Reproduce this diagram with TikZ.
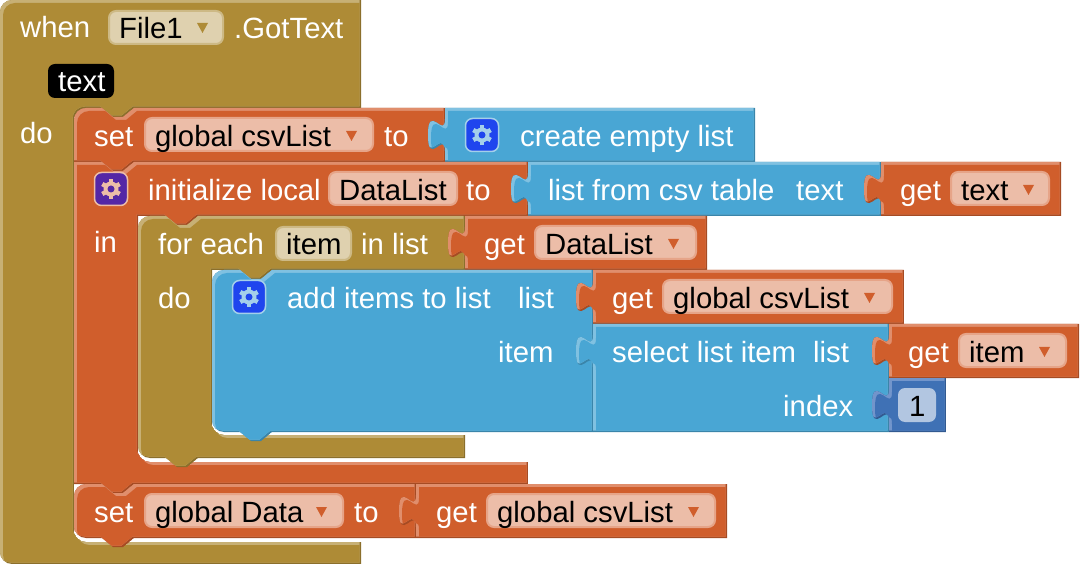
\documentclass[tikz,border=0pt]{standalone}
\usepackage{fontspec}
\setmainfont{Liberation Sans}

\definecolor{goldmain}{HTML}{AE8B36}
\definecolor{goldlight}{HTML}{C7B075}
\definecolor{golddark}{HTML}{8B6F2B}
\definecolor{orangemain}{HTML}{D05E2C}
\definecolor{orangelight}{HTML}{E08E6C}
\definecolor{orangedark}{HTML}{A64B23}
\definecolor{bluemain}{HTML}{49A6D4}
\definecolor{bluelight}{HTML}{80C1E1}
\definecolor{bluedark}{HTML}{3A85AA}
\definecolor{nummain}{HTML}{3F71B5}
\definecolor{numlight}{HTML}{7295CB}
\definecolor{numdark}{HTML}{325A91}
\definecolor{orangefield}{HTML}{ECBDA8}
\definecolor{orangerim}{HTML}{E6A488}
\definecolor{goldfield}{HTML}{DFD1AF}
\definecolor{goldrim}{HTML}{CDB985}
\definecolor{numfield}{HTML}{B2C6E1}
\definecolor{iconblue}{HTML}{1F45EE}
\definecolor{iconpurple}{HTML}{5427A6}
\definecolor{gearpale}{HTML}{A4CFEA}

% embossed block: dark rim, light rim, then the body
\newcommand{\blockshape}[2]{
  \begin{scope}
    \clip #2;
    \fill[#1dark] #2;
    \clip[shift={(-1.5,-1.5)}] #2;
    \fill[#1light] #2;
    \clip[shift={(3,3)}] #2;
    \fill[#1main] #2;
  \end{scope}
}
\newcommand{\tnotch}[2]{-- ({#1+28},#2) -- ({#1+39},{#2+9}) -- ({#1+49},{#2+9}) -- ({#1+60},#2)}
\newcommand{\bnotch}[2]{-- ({#1+60},#2) -- ({#1+49},{#2+9}) -- ({#1+39},{#2+9}) -- ({#1+28},#2)}
\newcommand{\ptab}[2]{-- (#1,{#2+11}) .. controls (#1,{#2+32}) and ({#1-17},{#2-6}) .. ({#1-17},{#2+27}) .. controls ({#1-17},{#2+60}) and (#1,{#2+22}) .. (#1,{#2+43})}
% value block with its tab on the left
\newcommand{\valblock}[5]{
  \blockshape{#1}{(#2,#3) \ptab{#2}{#3} -- (#2,#5) -- (#4,#5) -- (#4,#3) -- cycle}
}

\begin{document}
\begin{tikzpicture}[x=1pt,y=-1pt,
    lbl/.style={anchor=base west,inner sep=0pt,yshift=-0.7pt,font=\fontsize{29.3}{30}\selectfont},
    whitelbl/.style={lbl,text=white},
    blacklbl/.style={lbl,text=black},
    fieldbox/.style={anchor=north west,inner sep=0pt,outer sep=0pt,minimum height=33pt,rounded corners=7pt,line width=2pt}]
  \useasboundingbox (0,0) rectangle (1080,564);

  % event block and what it holds, back to front
  \blockshape{gold}{(361,108) -- (361,0) [rounded corners=12pt] -- (0,0) -- (0,564) [sharp corners] -- (361,564) -- (361,542) [rounded corners=12pt] -- (74,542) -- (74,108) [sharp corners] \tnotch{74}{108} -- cycle}
  \blockshape{orange}{(74,162) [rounded corners=12pt] -- (74,108) [sharp corners] \tnotch{74}{108} -- (445,108) -- (445,162) \bnotch{74}{162} -- cycle}
  \valblock{blue}{445}{108}{755}{162}
  \blockshape{orange}{(74,484) -- (74,162) \tnotch{74}{162} -- (528,162) -- (528,216) \bnotch{138}{216} -- (138,216) [rounded corners=12pt] -- (138,462) [sharp corners] -- (528,462) -- (528,484) \bnotch{74}{484} -- cycle}
  \valblock{blue}{528}{162}{881}{216}
  \valblock{orange}{881}{162}{1061}{216}
  \blockshape{gold}{(138,270) [rounded corners=12pt] -- (138,216) [sharp corners] \tnotch{138}{216} -- (465,216) -- (465,270) \bnotch{212}{270} -- (212,270) [rounded corners=12pt] -- (212,435) [sharp corners] -- (465,435) -- (465,458) \bnotch{138}{458} [rounded corners=12pt] -- (138,458) -- (138,400) [sharp corners] -- cycle}
  \valblock{orange}{465}{216}{707}{270}
  \blockshape{blue}{(212,350) [rounded corners=12pt] -- (212,270) [sharp corners] \tnotch{212}{270} -- (593,270) -- (593,432) \bnotch{212}{432} [rounded corners=12pt] -- (212,432) -- (212,380) [sharp corners] -- cycle}
  \valblock{orange}{593}{270}{904}{324}
  \valblock{blue}{593}{324}{889}{432}
  \valblock{orange}{889}{324}{1079}{378}
  \valblock{num}{889}{378}{946}{432}
  \blockshape{orange}{(74,510) [rounded corners=12pt] -- (74,484) [sharp corners] \tnotch{74}{484} -- (416,484) -- (416,538) \bnotch{74}{538} [rounded corners=12pt] -- (74,538) -- (74,520) [sharp corners] -- cycle}
  \valblock{orange}{416}{484}{727}{538}

  % dropdown fields
  \foreach \x/\w/\y/\tx/\name/\txt in {
    145/228/118/346/csvfield/global csvList, 329/128/172/0/datafield/DataList,
    951/98/172/1023/textfield/text, 535/161/226/668/listfield/DataList,
    663/229/280/864/getcsvfield/global csvList, 959/107/334/1039/itemfield/item,
    145/198/494/316/globalfield/global Data, 487/228/494/688/lastfield/global csvList}
  {
    \node[fieldbox,fill=orangefield,draw=orangerim,minimum width=\w pt] (\name) at (\x,\y) {};
    \node[blacklbl] (\name txt) at ({\x+10},{\y+28}) {\txt};
    \ifnum\tx>0 \fill[orangemain] (\tx,{\y+13}) -- ({\tx+11},{\y+13}) -- ({\tx+5.5},{\y+23}) -- cycle; \fi
  }
  \node[fieldbox,fill=goldfield,draw=goldrim,minimum width=114pt] (filefield) at (109,11) {};
  \node[blacklbl] (filetxt) at (119,38) {File1};
  \fill[goldmain] (197,23) -- (208,23) -- (202.5,33) -- cycle;
  \node[fieldbox,fill=goldfield,draw=goldrim,minimum width=75pt] (itemname) at (276,227) {};
  \node[blacklbl] (itemtxt) at (286,254) {item};
  \node[fieldbox,fill=black,minimum width=66pt,minimum height=34pt] (textname) at (48,64) {};
  \node[whitelbl] (texttxt) at (58,91) {text};
  \node[fieldbox,fill=numfield,minimum width=38pt,minimum height=34pt] (numbox) at (898,388) {};
  \node[blacklbl] (numtxt) at (909,416) {1};

  % mutator icons
  \foreach \cx/\cy/\bg/\gc/\name in {
    482/135/iconblue/gearpale/creategear, 111/189/iconpurple/orangefield/initgear,
    249/297/iconblue/gearpale/addgear}
  {
    \node[draw=\gc,fill=\bg,line width=1.5pt,rounded corners=7pt,minimum size=33pt,inner sep=0pt] (\name) at (\cx,\cy) {};
    \foreach \ang in {30,90,...,330}
      \draw[\gc,line width=4.5pt] ({\cx+5*cos(\ang)},{\cy+5*sin(\ang)}) -- ({\cx+10*cos(\ang)},{\cy+10*sin(\ang)});
    \fill[\gc] (\cx,\cy) circle[radius=7.5];
    \fill[\bg] (\cx,\cy) circle[radius=3.5];
  }

  % white labels
  \foreach \x/\y/\name/\txt in {
    20/37/whenlbl/when, 234/38/gottextlbl/.GotText, 20/143/dolbl/do, 94/146/setlbl/set,
    384/146/tolbl/to, 520/146/createlbl/create empty list, 148/200/initlbl/initialize local,
    466/200/initto/to, 548/200/csvlbl/list from csv table, 796/200/csvtext/text, 900/200/gettext/get,
    94/252/inlbl/in, 158/254/foreachlbl/for each, 361/254/inlist/in list, 484/254/getdata/get,
    158/308/dotwo/do, 287/308/addlbl/add items to list, 518/308/addlist/list, 612/308/getcsv/get,
    498/362/itemlbl/item, 612/362/selectlbl/select list item, 813/362/selectlist/list, 908/362/getitem/get,
    783/416/indexlbl/index, 94/522/setdata/set, 354/522/tothree/to, 436/522/getlast/get}
  {
    \node[whitelbl] (\name) at (\x,\y) {\txt};
  }
\end{tikzpicture}
\end{document}
